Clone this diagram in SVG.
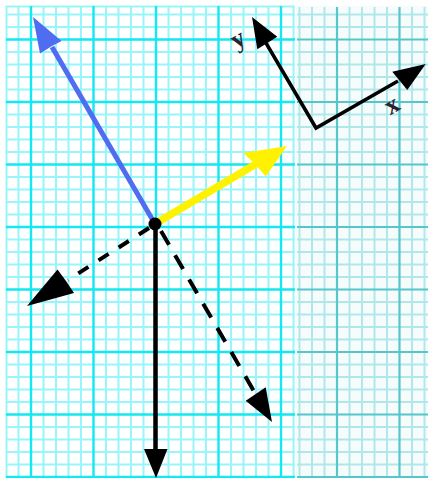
<svg xmlns="http://www.w3.org/2000/svg" width="428" height="478" viewBox="0 0 428 478">
  <style>
    .minL { stroke: #98f5f9; stroke-width: 2; fill: none; }
    .majL { stroke: #14e8f0; stroke-width: 2.4; fill: none; }
    .minR { stroke: #b0e8ea; stroke-width: 2; fill: none; }
    .majR { stroke: #55c6ca; stroke-width: 2.2; fill: none; }
    .shaft { fill: none; stroke-linecap: butt; }
    .blk { stroke: #000; }
    .lbl { font-family: "Liberation Serif", "DejaVu Serif", serif; font-weight: bold; fill: #2a2230; }
  </style>
  <rect width="428" height="478" fill="#ffffff"/>
  <g id="grid">
    <rect x="296" y="6" width="132" height="472" fill="#f6fcfc"/>
    <path class="minL" d="M6.5 6V478M18.5 6V478M43.5 6V478M56 6V478M68.5 6V478M81 6V478M106 6V478M118.5 6V478M131 6V478M143.5 6V478M168.5 6V478M181 6V478M193.5 6V478M206 6V478M231 6V478M243.5 6V478M256 6V478M268.5 6V478M293.5 6V478"/>
    <path class="minL" d="M6 6.5H295M6 14.5H295M6 27H295M6 52H295M6 64.5H295M6 77H295M6 89.5H295M6 114.5H295M6 127H295M6 139.5H295M6 152H295M6 177H295M6 189.5H295M6 202H295M6 214.5H295M6 239.5H295M6 252H295M6 264.5H295M6 277H295M6 302H295M6 314.5H295M6 327H295M6 339.5H295M6 364.5H295M6 377H295M6 389.5H295M6 402H295M6 427H295M6 439.5H295M6 452H295M6 464.5H295"/>
    <path class="majL" d="M31 6V478M93.5 6V478M156 6V478M218.5 6V478M281 6V478M6 39.5H295M6 102H295M6 164.5H295M6 227H295M6 289.5H295M6 352H295M6 414.5H295M6 477H295"/>
    <path class="minR" d="M299.5 7V478M312 7V478M324.5 7V478M349.5 7V478M362 7V478M374.5 7V478M387 7V478M412 7V478M424.5 7V478"/>
    <path class="minR" d="M297 14.5H428M297 27H428M297 52H428M297 64.5H428M297 77H428M297 89.5H428M297 114.5H428M297 127H428M297 139.5H428M297 152H428M297 177H428M297 189.5H428M297 202H428M297 214.5H428M297 239.5H428M297 252H428M297 264.5H428M297 277H428M297 302H428M297 314.5H428M297 327H428M297 339.5H428M297 364.5H428M297 377H428M297 389.5H428M297 402H428M297 427H428M297 439.5H428M297 452H428M297 464.5H428"/>
    <path class="majR" d="M337 7V478M399.5 7V478M297 39.5H428M297 102H428M297 164.5H428M297 227H428M297 289.5H428M297 352H428M297 414.5H428M297 477H428"/>
  </g>
  <g id="connectors">
    <g id="blue-arrow">
      <line class="shaft" x1="155" y1="224" x2="52" y2="47" stroke="#506cf0" stroke-width="5"/>
      <polygon points="33,17 61.6,40.9 52,46 40,53.5" fill="#506cf0"/>
    </g>
    <g id="yellow-arrow">
      <line class="shaft" x1="158" y1="222" x2="256" y2="164" stroke="#fff200" stroke-width="7.5"/>
      <polygon points="287,146 265.7,176.5 256,165 243.5,153" fill="#fff200"/>
    </g>
    <g id="down-arrow">
      <line class="shaft blk" x1="155.5" y1="224" x2="155.5" y2="452" stroke-width="4.5"/>
      <polygon points="144,449 167.5,449 156,478" fill="#000"/>
    </g>
    <g id="dashed-left-arrow">
      <line class="shaft blk" x1="149" y1="228" x2="68" y2="280" stroke-width="4" stroke-dasharray="12 12"/>
      <polygon points="27,306 57.5,269.5 66,281 74,293" fill="#000"/>
    </g>
    <g id="dashed-right-arrow">
      <line class="shaft blk" x1="161" y1="231" x2="255" y2="393" stroke-width="4" stroke-dasharray="16 12"/>
      <polygon points="272,422 245.7,400.7 255.7,394 265.7,387.3" fill="#000"/>
    </g>
    <g id="axes">
      <polyline class="shaft blk" points="266,43 316,128 398,81" stroke-width="3.5" stroke-linejoin="miter"/>
      <polygon points="252,17 277.3,36.7 257.3,49.3" fill="#000"/>
      <polygon points="425.7,64 392.3,71.7 407.3,90" fill="#000"/>
    </g>
  </g>
  <g id="origin">
    <circle cx="155" cy="224" r="6.5" fill="#000"/>
  </g>
  <g id="label-y">
    <text class="lbl" x="0" y="0" font-size="26" text-anchor="middle" transform="translate(242,46) rotate(-30)">y</text>
  </g>
  <g id="label-x">
    <text class="lbl" x="0" y="0" font-size="26" text-anchor="middle" transform="translate(396,112) rotate(-30)">x</text>
  </g>
</svg>
